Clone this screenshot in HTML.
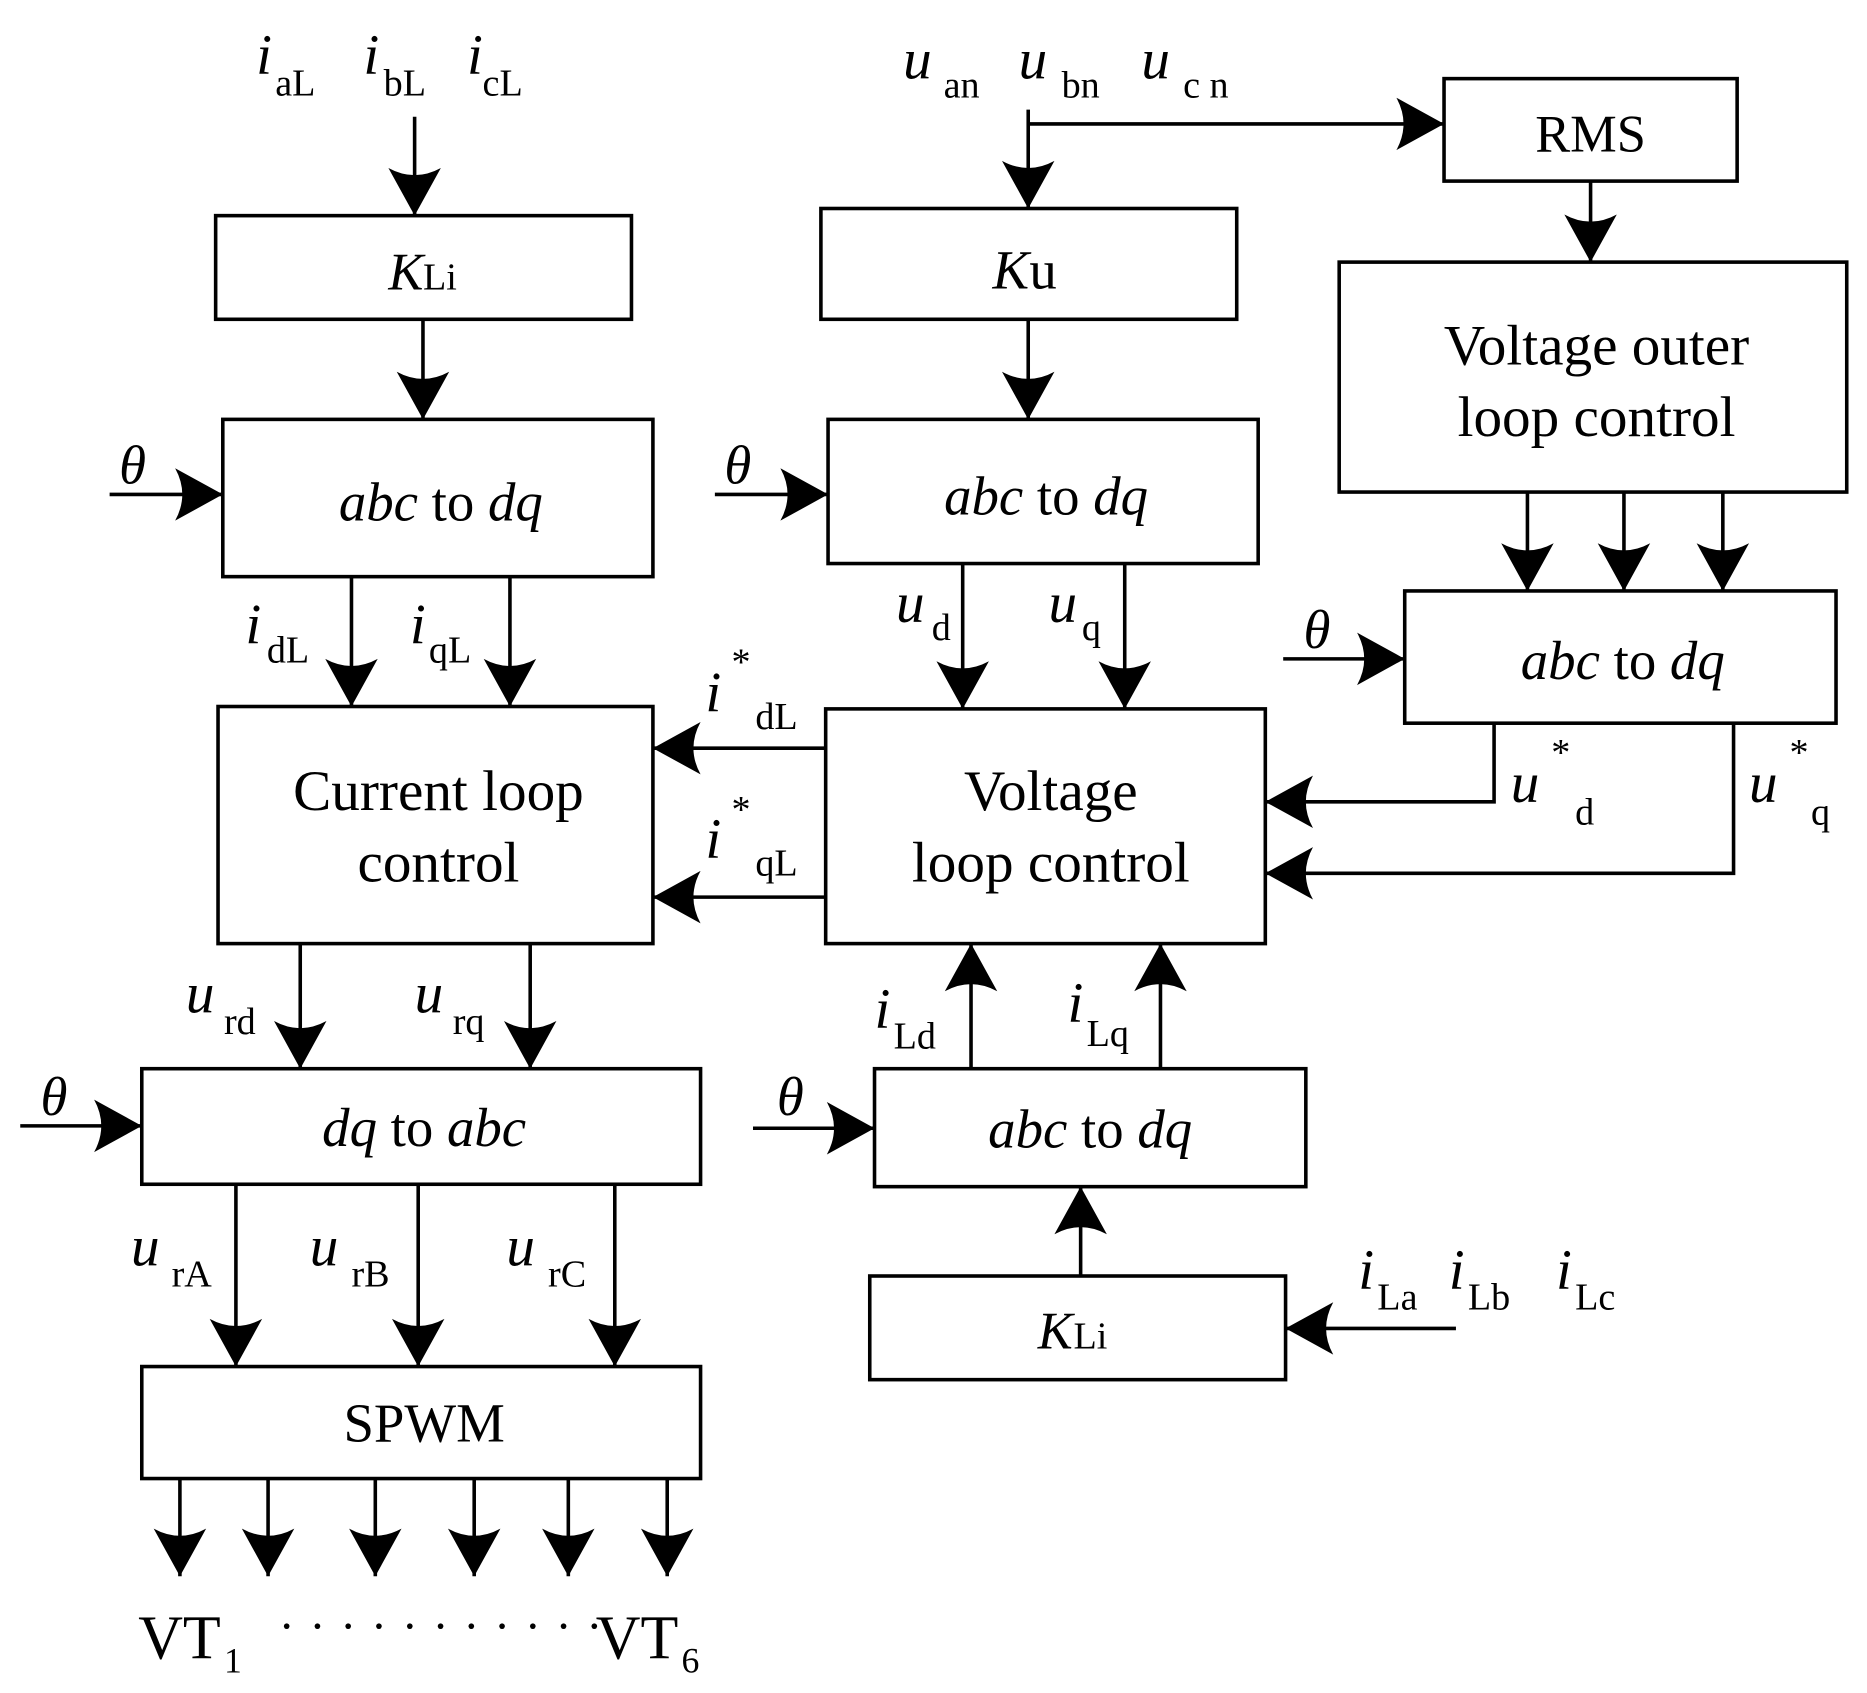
<!DOCTYPE html>
<html><head><meta charset="utf-8"><style>
html,body{margin:0;padding:0;background:#fff}
svg{display:block}
text{font-family:"Liberation Serif",serif;fill:#000}
.it{font-style:italic}
</style></head><body>
<svg width="1867" height="1693" viewBox="0 0 1567 1421" preserveAspectRatio="none" xmlns="http://www.w3.org/2000/svg">
<defs>
<marker id="a" markerUnits="userSpaceOnUse" markerWidth="50" markerHeight="50" refX="0" refY="0" viewBox="-40 -25 42 50" orient="auto">
<path d="M0,0 L-40,-22 Q-28,0 -40,22 Z" fill="#000"/>
</marker>
</defs>
<g fill="none" stroke="#000" stroke-width="3">
<rect x="181" y="181" width="349" height="87"/>
<rect x="689" y="175" width="349" height="93"/>
<rect x="1212" y="66" width="246" height="86"/>
<rect x="1124" y="220" width="426" height="193"/>
<rect x="187" y="352" width="361" height="132"/>
<rect x="695" y="352" width="361" height="121"/>
<rect x="1179" y="496" width="362" height="111"/>
<rect x="183" y="593" width="365" height="199"/>
<rect x="693" y="595" width="369" height="197"/>
<rect x="119" y="897" width="469" height="97"/>
<rect x="734" y="897" width="362" height="99"/>
<rect x="730" y="1071" width="349" height="87"/>
<rect x="119" y="1147" width="469" height="94"/>
</g>
<g stroke="#000" stroke-width="3" fill="none" marker-end="url(#a)">
<path d="M348,98 V181"/>
<path d="M355,268 V352"/>
<path d="M92,415 H187"/>
<path d="M600,415 H695"/>
<path d="M1077,553 H1179"/>
<path d="M17,945 H119"/>
<path d="M632,947 H734"/>
<path d="M863,92 V175"/>
<path d="M863,104 H1212"/>
<path d="M863,268 V352"/>
<path d="M1335,152 V220"/>
<path d="M1282,413 V496"/>
<path d="M1363,413 V496"/>
<path d="M1446,413 V496"/>
<path d="M295,484 V593"/>
<path d="M428,484 V593"/>
<path d="M808,473 V595"/>
<path d="M944,473 V595"/>
<path d="M693,628 H548"/>
<path d="M693,753 H548"/>
<path d="M1254,607 V673 H1062"/>
<path d="M1455,607 V733 H1062"/>
<path d="M252,792 V897"/>
<path d="M445,792 V897"/>
<path d="M815,897 V792"/>
<path d="M974,897 V792"/>
<path d="M907,1071 V996"/>
<path d="M1222,1115 H1079"/>
<path d="M198,994 V1147"/>
<path d="M351,994 V1147"/>
<path d="M516,994 V1147"/>
<path d="M151,1241 V1323"/>
<path d="M225,1241 V1323"/>
<path d="M315,1241 V1323"/>
<path d="M398,1241 V1323"/>
<path d="M477,1241 V1323"/>
<path d="M560,1241 V1323"/>
</g>
<g font-size="48" class="it">
<text x="215" y="62" class="it">i</text><text x="305" y="62" class="it">i</text><text x="392" y="62" class="it">i</text>
<text x="758" y="66" class="it">u</text><text x="855" y="66" class="it">u</text><text x="958" y="66" class="it">u</text>
</g>
<g font-size="32">
<text x="231" y="80">aL</text><text x="322" y="80">bL</text><text x="405" y="80">cL</text>
<text x="792" y="82">an</text><text x="891" y="82">bn</text><text x="993" y="82">c n</text>
</g>
<text x="326" y="243" font-size="44" class="it">K</text><text x="355" y="243" font-size="32">Li</text>
<text x="833" y="242" font-size="46" class="it">K</text><text x="864" y="242" font-size="46">u</text>
<text x="1335" y="127" font-size="44" text-anchor="middle">RMS</text>
<text x="1340" y="306" font-size="48" text-anchor="middle">Voltage outer</text>
<text x="1340" y="366" font-size="48" text-anchor="middle">loop control</text>
<text x="370" y="437" font-size="46" text-anchor="middle"><tspan class="it">abc</tspan> to <tspan class="it">dq</tspan></text>
<text x="878" y="432" font-size="46" text-anchor="middle"><tspan class="it">abc</tspan> to <tspan class="it">dq</tspan></text>
<text x="1362" y="570" font-size="46" text-anchor="middle"><tspan class="it">abc</tspan> to <tspan class="it">dq</tspan></text>
<text x="915" y="963" font-size="46" text-anchor="middle"><tspan class="it">abc</tspan> to <tspan class="it">dq</tspan></text>
<text x="356" y="962" font-size="46" text-anchor="middle"><tspan class="it">dq</tspan> to <tspan class="it">abc</tspan></text>
<text x="368" y="680" font-size="48" text-anchor="middle">Current loop</text>
<text x="368" y="740" font-size="48" text-anchor="middle">control</text>
<text x="882" y="680" font-size="48" text-anchor="middle">Voltage</text>
<text x="882" y="740" font-size="48" text-anchor="middle">loop control</text>
<text x="871" y="1132" font-size="44" class="it">K</text><text x="901" y="1132" font-size="32">Li</text>
<text x="356" y="1210" font-size="46" text-anchor="middle">SPWM</text>
<g font-size="46" class="it">
<text x="100" y="406">θ</text><text x="608" y="406">θ</text><text x="1094" y="544">θ</text>
<text x="34" y="936">θ</text><text x="652" y="936">θ</text>
</g>
<g font-size="48" class="it">
<text x="206" y="540">i</text><text x="344" y="540">i</text>
<text x="752" y="522">u</text><text x="880" y="522">u</text>
<text x="592" y="597">i</text><text x="592" y="720">i</text>
<text x="1268" y="673">u</text><text x="1468" y="673">u</text>
<text x="156" y="850">u</text><text x="348" y="850">u</text>
<text x="734" y="863">i</text><text x="896" y="858">i</text>
<text x="110" y="1062">u</text><text x="260" y="1062">u</text><text x="425" y="1062">u</text>
<text x="1140" y="1082">i</text><text x="1216" y="1082">i</text><text x="1306" y="1082">i</text>
</g>
<g font-size="32">
<text x="224" y="556">dL</text><text x="360" y="556">qL</text>
<text x="782" y="537">d</text><text x="908" y="537">q</text>
<text x="634" y="612">dL</text><text x="634" y="735">qL</text>
<text x="1322" y="692">d</text><text x="1520" y="692">q</text>
<text x="188" y="868">rd</text><text x="380" y="868">rq</text>
<text x="750" y="880">Ld</text><text x="912" y="878">Lq</text>
<text x="144" y="1080">rA</text><text x="295" y="1080">rB</text><text x="460" y="1080">rC</text>
<text x="1156" y="1099">La</text><text x="1232" y="1099">Lb</text><text x="1322" y="1099">Lc</text>
</g>
<g font-size="32">
<text x="614" y="566">*</text><text x="614" y="690">*</text>
<text x="1302" y="642">*</text><text x="1502" y="642">*</text>
</g>
<text x="116" y="1392" font-size="52">VT</text><text x="188" y="1404" font-size="30">1</text>
<text x="234" y="1378" font-size="40" letter-spacing="12.5">···········</text>
<text x="500" y="1392" font-size="52">VT</text><text x="572" y="1404" font-size="30">6</text>
</svg>
</body></html>
